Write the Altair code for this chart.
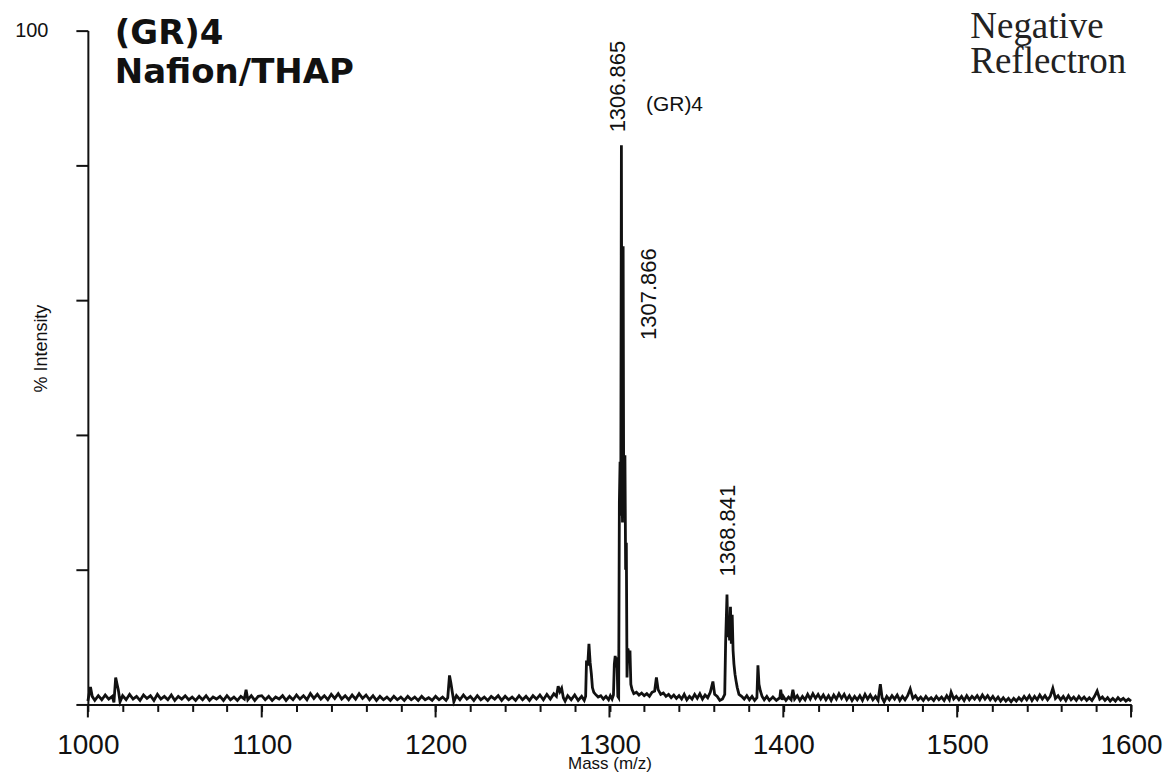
import altair as alt
import pandas as pd

# ---- spectrum data (m/z, % intensity) ----
region_1000_1100 = [
    (1000.0, 0.5), (1001.5, 2.6), (1002.5, 1.2), (1004, 0.6), (1006, 1.3), (1008, 0.7),
    (1010, 1.4), (1012, 0.8), (1014, 1.2), (1015, 0.3), (1016, 4.0), (1016.8, 3.0),
    (1017.5, 2.2), (1018.5, 0.4), (1020, 1.3), (1022, 0.7), (1024, 1.5), (1026, 0.8),
    (1028, 1.2), (1030, 0.6), (1032, 1.4), (1034, 0.9), (1036, 1.3), (1038, 0.6),
    (1040, 1.5), (1042, 0.8), (1044, 1.2), (1046, 0.7), (1048, 1.4), (1050, 0.6),
    (1052, 1.2), (1054, 0.8), (1056, 1.3), (1058, 0.7), (1060, 1.1), (1062, 0.6),
    (1064, 1.2), (1066, 0.7), (1068, 1.3), (1070, 0.6), (1072, 1.1), (1074, 0.8),
    (1076, 1.2), (1078, 0.6), (1080, 1.3), (1082, 0.7), (1084, 1.1), (1086, 0.6),
    (1088, 1.2), (1090, 0.8), (1091, 2.2), (1092, 0.7), (1094, 1.3), (1096, 0.6),
    (1098, 1.2),
]
region_1100_1200 = [
    (1100, 1.3), (1102, 0.7), (1104, 1.2), (1106, 0.6), (1108, 1.1), (1110, 0.8),
    (1112, 1.3), (1114, 0.6), (1116, 1.2), (1118, 0.7), (1120, 1.4), (1122, 0.8),
    (1124, 1.3), (1126, 0.7), (1128, 1.6), (1130, 0.9), (1132, 1.5), (1134, 0.8),
    (1136, 1.3), (1138, 0.7), (1140, 1.5), (1142, 0.9), (1144, 1.6), (1146, 0.8),
    (1148, 1.3), (1150, 0.7), (1152, 1.4), (1154, 0.8), (1156, 1.6), (1158, 0.9),
    (1160, 1.4), (1162, 0.7), (1164, 1.3), (1166, 0.6), (1168, 1.2), (1170, 0.7),
    (1172, 1.1), (1174, 0.6), (1176, 1.2), (1178, 0.7), (1180, 1.1), (1182, 0.6),
    (1184, 1.2), (1186, 0.7), (1188, 1.1), (1190, 0.6), (1192, 1.2), (1194, 0.7),
    (1196, 1.0), (1198, 0.6),
]
region_1200_1300 = [
    (1200, 1.2), (1202, 0.7), (1204, 1.1), (1206, 0.6), (1207, 1.0), (1208, 4.3),
    (1208.8, 3.2), (1209.5, 2.0), (1210.5, 0.4), (1212, 1.3), (1214, 0.7), (1216, 1.4),
    (1218, 0.8), (1220, 1.2), (1222, 0.6), (1224, 1.3), (1226, 0.7), (1228, 1.1),
    (1230, 0.6), (1232, 1.2), (1234, 0.8), (1236, 1.3), (1238, 0.6), (1240, 1.2),
    (1242, 0.7), (1244, 1.1), (1246, 0.6), (1248, 1.3), (1250, 0.7), (1252, 1.2),
    (1254, 0.6), (1256, 1.3), (1258, 0.8), (1260, 1.4), (1262, 0.7), (1264, 1.5),
    (1266, 0.8), (1268, 1.6), (1269.5, 1.2), (1270.5, 2.7), (1271.5, 1.9), (1272.5, 2.4),
    (1273.5, 1.0), (1274.5, 0.5), (1276, 1.3), (1278, 0.7), (1280, 1.4), (1282, 0.6),
    (1284, 1.2), (1285.5, 0.6), (1286.3, 1.2), (1286.8, 6.5), (1287.5, 5.8), (1288.2, 9.0),
    (1288.9, 6.2), (1289.6, 4.5), (1290.2, 2.5), (1291, 1.8), (1292, 1.5), (1293.5, 1.1),
    (1295, 1.3), (1296.5, 0.8), (1298, 1.2), (1299.5, 0.7),
]
region_1300_1400 = [
    (1300.5, 1.3), (1301.5, 0.8), (1302.3, 1.4), (1302.8, 6.0), (1303.3, 7.2), (1303.8, 5.5),
    (1304.3, 7.0), (1304.8, 1.2), (1305.3, 1.0), (1305.7, 30.0), (1306.1, 36.0), (1306.5, 28.0),
    (1306.87, 83.0), (1307.2, 32.0), (1307.5, 27.0), (1307.87, 68.0), (1308.2, 30.0),
    (1308.5, 33.0), (1308.9, 37.0), (1309.3, 20.0), (1309.7, 24.0), (1310.1, 4.0),
    (1310.6, 8.3), (1311.2, 7.5), (1311.8, 8.0), (1312.3, 3.0), (1313, 2.2), (1314, 1.6),
    (1315.5, 1.8), (1317, 1.4), (1318.5, 1.7), (1320, 1.3), (1321.5, 1.6), (1323, 1.2),
    (1324.5, 1.8), (1326, 2.0), (1327, 4.0), (1328, 2.2), (1329.5, 1.5), (1331, 1.7),
    (1332.5, 1.2), (1334, 1.5), (1335.5, 1.0), (1337, 1.4), (1338.5, 0.9), (1340, 1.3),
    (1341.5, 0.8), (1343, 1.5), (1344.5, 0.7), (1346, 1.2), (1347.5, 0.8), (1349, 1.5),
    (1350.5, 0.9), (1352, 1.6), (1353.5, 0.8), (1355, 1.4), (1356.5, 1.0), (1358, 1.8),
    (1359.5, 3.4), (1360.5, 1.5), (1362, 1.2), (1363.5, 0.6), (1365, 0.8), (1366.3, 1.5),
    (1366.8, 9.0), (1367.6, 16.3), (1368.1, 10.0), (1368.6, 12.0), (1369.1, 9.5),
    (1369.6, 14.5), (1370.1, 9.0), (1370.6, 13.3), (1371.1, 8.0), (1371.6, 6.0),
    (1372.2, 4.5), (1372.8, 3.5), (1373.5, 2.5), (1374.5, 1.5), (1376, 1.2), (1377.5, 0.8),
    (1379, 1.3), (1380.5, 0.7), (1382, 1.2), (1383.5, 0.6), (1384.8, 1.0), (1385.4, 5.8),
    (1386, 3.0), (1386.8, 2.0), (1387.8, 1.2), (1389, 0.7), (1390.5, 1.2), (1392, 0.6),
    (1394, 1.1), (1396, 0.6), (1398, 1.0), (1398.5, 2.2), (1399.3, 0.7),
]
region_1400_1500 = [
    (1400, 1.2), (1401.5, 0.6), (1403, 1.1), (1404.5, 0.7), (1405.5, 2.2), (1406.5, 0.8),
    (1408, 1.3), (1409.5, 0.6), (1411, 1.2), (1412.5, 0.7), (1414, 1.5), (1415.5, 0.8),
    (1417, 1.6), (1418.5, 0.9), (1420, 1.5), (1421.5, 0.8), (1423, 1.4), (1424.5, 0.7),
    (1426, 1.3), (1427.5, 0.6), (1429, 1.4), (1430.5, 0.8), (1432, 1.6), (1433.5, 0.9),
    (1435, 1.5), (1436.5, 0.7), (1438, 1.3), (1439.5, 0.6), (1441, 1.2), (1442.5, 0.7),
    (1444, 1.3), (1445.5, 0.6), (1447, 1.5), (1448.5, 0.8), (1450, 1.4), (1451.5, 0.7),
    (1453, 1.2), (1454.5, 0.6), (1455.8, 3.0), (1456.8, 1.0), (1458, 0.4), (1459.5, 1.2),
    (1461, 0.7), (1462.5, 1.3), (1464, 0.8), (1465.5, 1.4), (1467, 0.6), (1468.5, 1.2),
    (1470, 0.7), (1471.5, 1.3), (1473, 2.3), (1474.5, 0.9), (1476, 1.3), (1477.5, 0.7),
    (1479, 1.1), (1480.5, 0.6), (1482, 1.2), (1483.5, 0.7), (1485, 1.0), (1486.5, 0.6),
    (1488, 1.2), (1489.5, 0.7), (1491, 1.1), (1492.5, 0.6), (1494, 1.3), (1495.5, 0.7),
    (1496.5, 1.8), (1498, 0.8), (1499.5, 1.2),
]
region_1500_1600 = [
    (1501, 0.7), (1502.5, 1.2), (1504, 0.6), (1505.5, 1.3), (1507, 0.7), (1508.5, 1.2),
    (1510, 0.8), (1511.5, 1.3), (1513, 0.7), (1514.5, 1.4), (1516, 0.8), (1517.5, 1.3),
    (1519, 0.7), (1520.5, 1.2), (1522, 0.6), (1523.5, 1.1), (1525, 0.5), (1526.5, 1.0),
    (1528, 0.5), (1529.5, 0.9), (1531, 0.4), (1532.5, 0.9), (1534, 0.5), (1535.5, 1.0),
    (1537, 0.6), (1538.5, 1.2), (1540, 0.7), (1541.5, 1.3), (1543, 0.6), (1544.5, 1.2),
    (1546, 0.7), (1547.5, 1.4), (1549, 0.8), (1550.5, 1.3), (1552, 0.7), (1553.5, 1.2),
    (1555, 2.4), (1556.5, 0.9), (1558, 1.3), (1559.5, 0.7), (1561, 1.2), (1562.5, 0.6),
    (1564, 1.3), (1565.5, 0.7), (1567, 1.1), (1568.5, 0.6), (1570, 1.2), (1571.5, 0.7),
    (1573, 1.1), (1574.5, 0.6), (1576, 1.0), (1577.5, 0.6), (1579, 1.2), (1580.5, 2.0),
    (1582, 0.8), (1583.5, 1.1), (1585, 0.6), (1586.5, 1.0), (1588, 0.5), (1589.5, 0.9),
    (1591, 0.5), (1592.5, 1.0), (1594, 0.6), (1595.5, 0.9), (1597, 0.5), (1598.5, 0.8),
    (1600, 0.5),
]

# ---- peak annotations ----
peak_label_text = ["1306.865", "1307.866", "1368.841"]
peak_label_mz = [1304.9, 1322.7, 1368.0]
peak_label_int = [84.9, 54.1, 19.0]

species_text = ["(GR)4"]
species_mz = [1321.0]
species_int = [88.1]

# ---- axes ----
x_tick_values = [1000, 1020, 1040, 1060, 1080, 1100, 1120, 1140, 1160, 1180,
                 1200, 1220, 1240, 1260, 1280, 1300, 1320, 1340, 1360, 1380,
                 1400, 1420, 1440, 1460, 1480, 1500, 1520, 1540, 1560, 1580, 1600]
x_major_values = [1000, 1100, 1200, 1300, 1400, 1500, 1600]
y_tick_values = [0, 20, 40, 60, 80, 100]

title_lines = ["(GR)4", "Nafion/THAP"]
mode_lines = ["Negative", "Reflectron"]

rows = []
for region in [region_1000_1100, region_1100_1200, region_1200_1300,
               region_1300_1400, region_1400_1500, region_1500_1600]:
    for mz, inten in region:
        rows.append({"mz": mz, "intensity": inten})
spectrum = pd.DataFrame(rows)

labels_df = pd.DataFrame({"mz": peak_label_mz, "intensity": peak_label_int, "text": peak_label_text})
species_df = pd.DataFrame({"mz": species_mz, "intensity": species_int, "text": species_text})
major_df = pd.DataFrame({"mz": x_major_values})
one_row = pd.DataFrame({"k": [0]})

W, H = 1045, 675
SANS = "Liberation Sans"
INK = "#111"

x_scale = alt.Scale(domain=[1000, 1600], nice=False, zero=False)
y_scale = alt.Scale(domain=[0, 100], nice=False)

x_axis = alt.Axis(
    values=x_tick_values,
    labelExpr="datum.value % 100 === 0 ? datum.label : ''",
    labelOverlap=False,
    labelFlush=False,
    format="d",
    tickSize=7,
    tickWidth=2,
    tickColor=INK,
    domainColor=INK,
    domainWidth=2,
    labelFont=SANS,
    labelFontSize=28,
    labelColor=INK,
    labelPadding=20,
    grid=False,
    title="Mass (m/z)",
    titleFont=SANS,
    titleFontSize=17,
    titleFontWeight="normal",
    titleColor=INK,
    titleBaseline="alphabetic",
    titleY=64,
)
y_axis = alt.Axis(
    values=y_tick_values,
    labelExpr="datum.value === 100 ? '100' : ''",
    labelOverlap=False,
    labelFlush=False,
    tickSize=12,
    tickWidth=2,
    tickColor=INK,
    domainColor=INK,
    domainWidth=2,
    labelFont=SANS,
    labelFontSize=20,
    labelColor=INK,
    labelPadding=28,
    grid=False,
    title="% Intensity",
    titleFont=SANS,
    titleFontSize=18,
    titleFontWeight="normal",
    titleColor=INK,
    titleAngle=270,
    titleAlign="center",
    titleBaseline="middle",
    titleX=-46,
    titleY=318,
)

line = alt.Chart(spectrum).mark_line(color=INK, strokeWidth=2.8, interpolate="linear").encode(
    x=alt.X("mz:Q", scale=x_scale, axis=x_axis),
    y=alt.Y("intensity:Q", scale=y_scale, axis=y_axis),
)

# longer ticks at the labelled masses
major_ticks = alt.Chart(major_df).mark_rule(color=INK, strokeWidth=2).encode(
    x=alt.X("mz:Q", scale=x_scale, axis=x_axis),
    y=alt.value(H),
    y2=alt.value(H + 13),
)

peak_labels = alt.Chart(labels_df).mark_text(
    angle=270, align="left", baseline="middle", font=SANS, fontSize=22, color=INK
).encode(
    x=alt.X("mz:Q", scale=x_scale, axis=x_axis),
    y=alt.Y("intensity:Q", scale=y_scale, axis=y_axis),
    text="text:N",
)

species_label = alt.Chart(species_df).mark_text(
    align="left", baseline="alphabetic", font=SANS, fontSize=21, color=INK
).encode(
    x=alt.X("mz:Q", scale=x_scale, axis=x_axis),
    y=alt.Y("intensity:Q", scale=y_scale, axis=y_axis),
    text="text:N",
)


def text_line(txt, x, y, **style):
    return alt.Chart(one_row).mark_text(align="left", baseline="alphabetic", text=txt, **style).encode(
        x=alt.value(x), y=alt.value(y)
    )


title_style = dict(font="DejaVu Sans", fontWeight="bold", fontSize=34, color=INK)
mode_style = dict(font="Liberation Serif", fontSize=37, color="#222")

texts = [
    text_line(title_lines[0], 27, 13, **title_style),
    text_line(title_lines[1], 27, 52, **title_style),
    text_line(mode_lines[0], 884, 7, **mode_style),
    text_line(mode_lines[1], 884, 42, **mode_style),
]

chart = (
    alt.layer(line, major_ticks, peak_labels, species_label, *texts)
    .properties(
        width=W,
        height=H,
        autosize=alt.AutoSizeParams(type="none"),
        padding={"left": 80, "top": 22, "right": 32, "bottom": 70},
        background="white",
    )
    .configure_view(stroke=None)
)

chart.save("out.html", embed_options={"renderer": "svg", "actions": False})
